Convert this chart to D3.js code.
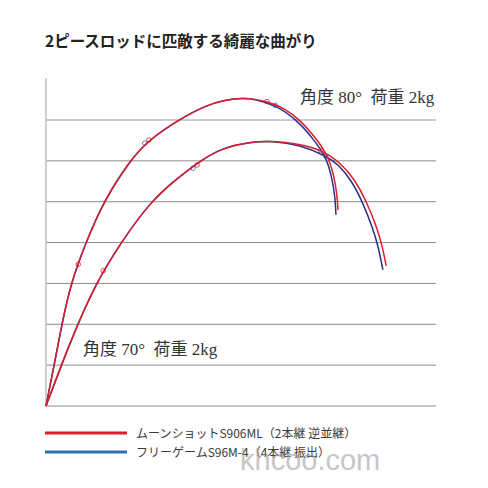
<!DOCTYPE html>
<html>
<head>
<meta charset="utf-8">
<script src="https://cdn.jsdelivr.net/npm/d3@7"></script>
<style>
  body { margin: 0; background: #fff; }
  svg { display: block; }
</style>
</head>
<body>
<div id="chart"></div>
<script>
// chart text
const title = "2ピースロッドに匹敵する綺麗な曲がり";
const seriesNames = ["ムーンショットS906ML（2本継 逆並継）", "フリーゲームS96M-4（4本継 振出）"];
const angleLabels = ["角度80° 荷重2kg", "角度70° 荷重2kg"];
const gridLevels = [0, 1, 2, 3, 4, 5, 6, 7];

// rod tip paths (x, y), grid units
const moon80 = [[0, 0], [0.2, 1.0], [0.39, 2.01], [0.61, 3.01], [0.98, 4.01], [1.4, 4.99], [2.06, 6.02],
  [2.52, 6.51], [3.23, 7.0], [3.94, 7.37], [4.38, 7.49], [4.82, 7.54], [5.12, 7.51], [5.41, 7.45],
  [5.85, 7.29], [6.22, 7.0], [6.59, 6.58], [6.9, 6.14], [7.05, 5.65], [7.13, 5.16], [7.15, 4.8]];
const free80 = [[0, 0], [0.2, 1.0], [0.39, 2.01], [0.61, 3.01], [0.98, 4.01], [1.4, 4.99], [2.06, 6.02],
  [2.52, 6.51], [3.23, 7.0], [3.94, 7.37], [4.38, 7.49], [4.82, 7.54], [5.12, 7.51], [5.61, 7.37],
  [6.15, 7.0], [6.54, 6.54], [6.86, 6.1], [7.0, 5.6], [7.08, 5.12], [7.1, 4.68]];
const moon70 = [[0, 0], [0.61, 1.62], [1.22, 3.01], [1.84, 4.01], [2.55, 4.99], [3.16, 5.53], [3.8, 6.02],
  [4.33, 6.32], [5.0, 6.46], [5.53, 6.49], [6.22, 6.41], [6.73, 6.27], [7.2, 5.97], [7.57, 5.53],
  [7.84, 5.02], [8.08, 4.43], [8.23, 3.94], [8.33, 3.43]];
const free70 = [[0, 0], [0.61, 1.62], [1.22, 3.01], [1.84, 4.01], [2.55, 4.99], [3.16, 5.53], [3.8, 6.02],
  [4.33, 6.32], [5.0, 6.46], [5.53, 6.49], [6.22, 6.39], [6.86, 6.12], [7.15, 5.92], [7.49, 5.51],
  [7.76, 4.97], [7.98, 4.41], [8.13, 3.94], [8.25, 3.33]];

// guide ring positions
const moonRings = [[0.79, 3.47], [2.52, 6.51], [5.41, 7.45], [1.4, 3.31], [3.7, 5.9], [6.73, 6.25]];
const freeRings = [[2.42, 6.43], [5.61, 7.36], [3.6, 5.82], [6.85, 6.11]];

const width = 488;
const height = 488;
const red = "#d7202c";
const navy = "#2b2f8c";

const svg = d3.select("#chart")
  .append("svg")
  .attr("width", width)
  .attr("height", height);

svg.append("rect")
  .attr("width", width)
  .attr("height", height)
  .attr("fill", "#fff");

// scales, same pixel size for one unit on both axes
const x = d3.scaleLinear().domain([0, 9.55]).range([46, 436]);
const y = d3.scaleLinear().domain([0, 7]).range([406, 120]);

// title
svg.append("text")
  .attr("x", 45)
  .attr("y", 47)
  .attr("font-family", "Noto Sans CJK JP")
  .attr("font-weight", "bold")
  .attr("font-size", 15.5)
  .attr("fill", "#222")
  .text(title);

// horizontal grid
svg.append("g")
  .selectAll("line")
  .data(gridLevels)
  .join("line")
  .attr("x1", x(0))
  .attr("x2", x(9.55))
  .attr("y1", d => y(d))
  .attr("y2", d => y(d))
  .attr("stroke", d => d == 7 ? "#bdbdbd" : "#8c8c8c")
  .attr("stroke-width", d => d == 7 ? 1.5 : 1);

// vertical axis
svg.append("line")
  .attr("x1", x(0))
  .attr("x2", x(0))
  .attr("y1", y(0))
  .attr("y2", y(8.02))
  .attr("stroke", "#bdbdbd")
  .attr("stroke-width", 1.5);

const line = d3.line()
  .x(d => x(d[0]))
  .y(d => y(d[1]))
  .curve(d3.curveBasis);

// blue under red
[free80, free70].forEach(p => {
  svg.append("path")
    .attr("d", line(p))
    .attr("fill", "none")
    .attr("stroke", navy)
    .attr("stroke-width", 1.5);
});
svg.selectAll(".free-ring")
  .data(freeRings)
  .join("circle")
  .attr("class", "free-ring")
  .attr("cx", d => x(d[0]))
  .attr("cy", d => y(d[1]))
  .attr("r", 2.3)
  .attr("fill", "none")
  .attr("stroke", "#4a55b0")
  .attr("stroke-width", 0.8);

[moon80, moon70].forEach(p => {
  svg.append("path")
    .attr("d", line(p))
    .attr("fill", "none")
    .attr("stroke", red)
    .attr("stroke-width", 1.5);
});
svg.selectAll(".moon-ring")
  .data(moonRings)
  .join("circle")
  .attr("class", "moon-ring")
  .attr("cx", d => x(d[0]))
  .attr("cy", d => y(d[1]))
  .attr("r", 2.3)
  .attr("fill", "none")
  .attr("stroke", red)
  .attr("stroke-width", 0.8);

// angle labels
const labelPos = [[300, 103], [83, 355]];
svg.selectAll(".angle")
  .data(angleLabels)
  .join("text")
  .attr("class", "angle")
  .attr("x", (d, i) => labelPos[i][0])
  .attr("y", (d, i) => labelPos[i][1])
  .attr("font-family", "Liberation Serif, Noto Sans CJK JP")
  .attr("font-size", 17)
  .attr("fill", "#333")
  .attr("xml:space", "preserve")
  .text(d => d.replace("° ", "°  ").replace("度", "度 ").replace("重", "重 "));

// legend
const legendColors = [red, "#2f6fb8"];
const legend = svg.append("g");
legend.selectAll("line")
  .data(seriesNames)
  .join("line")
  .attr("x1", 45)
  .attr("x2", 127)
  .attr("y1", (d, i) => 433 + i * 19)
  .attr("y2", (d, i) => 433 + i * 19)
  .attr("stroke", (d, i) => legendColors[i])
  .attr("stroke-width", 3);
legend.selectAll("text")
  .data(seriesNames)
  .join("text")
  .attr("x", 136)
  .attr("y", (d, i) => 437.5 + i * 19)
  .attr("font-family", "Noto Sans CJK JP")
  .attr("font-size", 12)
  .attr("fill", "#3a3a3a")
  .text(d => d);

// watermark
svg.append("text")
  .attr("x", 240)
  .attr("y", 470)
  .attr("font-family", "Liberation Sans")
  .attr("font-size", 29)
  .attr("fill", "#999")
  .attr("opacity", 0.55)
  .text("khcoo.com");
</script>
</body>
</html>
